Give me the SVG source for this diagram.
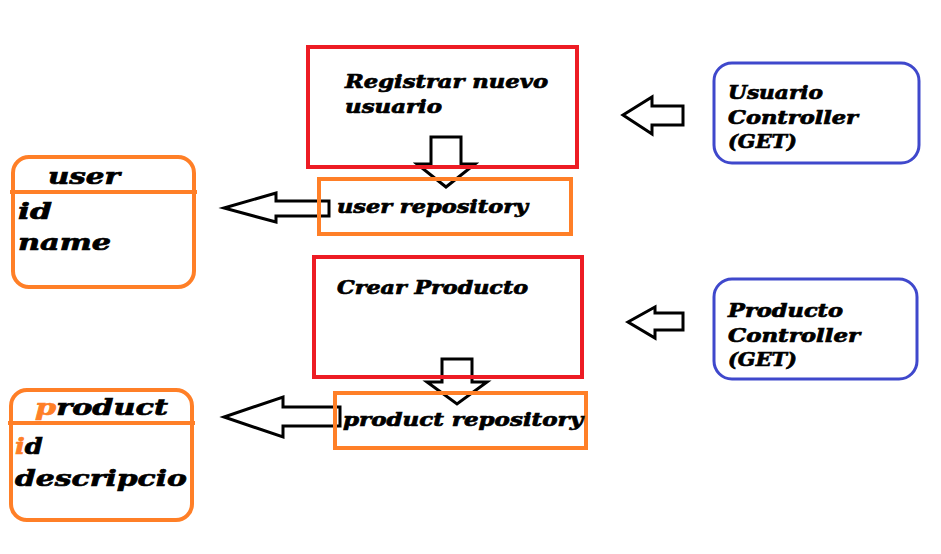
<svg xmlns="http://www.w3.org/2000/svg" width="941" height="554" viewBox="0 0 941 554">
<style>
.t{font-family:"DejaVu Serif","Liberation Serif",serif;font-weight:bold;font-style:italic;fill:#000;stroke:#000;stroke-width:0.7}
.s{font-size:18px}
.e{font-size:23px}
.red{fill:none;stroke:#ed1c24;stroke-width:4}
.org{fill:none;stroke:#ff7f27;stroke-width:4}
.blu{fill:none;stroke:#3f48cc;stroke-width:3}
.arr{fill:none;stroke:#000;stroke-width:3;stroke-linejoin:miter}
.op{fill:#ff7f27;stroke:#ff7f27}
</style>
<rect width="941" height="554" fill="#fff"/>
<g id="connectors">
<polygon class="arr" points="431,137 461,137 461,164 475,164 446,187 417,164 431,164"/>
<polygon class="arr" points="442,359 472,359 472,382 487,382 457,404 427,382 442,382"/>
<polygon class="arr" points="329,201 276,201 276,193 224,208 276,222 276,216 329,216"/>
<polygon class="arr" points="340,407 283,407 283,397 224,417 283,437 283,426 340,426"/>
<polygon class="arr" points="683,106 652,106 652,97 623,115 652,134 652,125 683,125"/>
<polygon class="arr" points="683,313 655,313 655,307 628,322 655,338 655,330 683,330"/>
</g>
<g id="registrar">
<rect class="red" x="308" y="47" width="269" height="120"/>
<text class="t s" x="345" y="88" textLength="203" lengthAdjust="spacingAndGlyphs">Registrar nuevo</text>
<text class="t s" x="345" y="113" textLength="97" lengthAdjust="spacingAndGlyphs">usuario</text>
</g>
<g id="user-repository">
<rect class="org" x="319" y="179" width="252" height="55"/>
<text class="t s" x="337" y="213" textLength="191" lengthAdjust="spacingAndGlyphs">user repository</text>
</g>
<g id="crear-producto">
<rect class="red" x="314" y="257" width="268" height="120"/>
<text class="t s" x="337" y="294" textLength="191" lengthAdjust="spacingAndGlyphs">Crear Producto</text>
</g>
<g id="product-repository">
<rect class="org" x="335" y="393" width="251" height="55"/>
<text class="t s" x="343" y="426" textLength="240" lengthAdjust="spacingAndGlyphs">product repository</text>
</g>
<g id="user">
<rect class="org" x="13" y="157" width="181" height="130" rx="16"/>
<line class="org" x1="10" y1="192" x2="197" y2="192"/>
<text class="t e" x="48" y="184" textLength="72" lengthAdjust="spacingAndGlyphs">user</text>
<text class="t e" x="18" y="219" textLength="34" lengthAdjust="spacingAndGlyphs">id</text>
<text class="t e" x="18" y="250" textLength="93" lengthAdjust="spacingAndGlyphs">name</text>
</g>
<g id="product">
<rect class="org" x="11" y="390" width="181" height="130" rx="16"/>
<line class="org" x1="8" y1="423" x2="195" y2="423"/>
<text class="t e" x="35" y="415" textLength="133" lengthAdjust="spacingAndGlyphs"><tspan class="op">p</tspan>roduct</text>
<text class="t e" x="15" y="454" textLength="28" lengthAdjust="spacingAndGlyphs"><tspan class="op">i</tspan>d</text>
<text class="t e" x="15" y="486" textLength="172" lengthAdjust="spacingAndGlyphs">descripcio</text>
</g>
<g id="usuario-controller">
<rect class="blu" x="714" y="63" width="205" height="100" rx="18"/>
<text class="t s" x="728" y="99" textLength="95" lengthAdjust="spacingAndGlyphs">Usuario</text>
<text class="t s" x="728" y="124" textLength="130" lengthAdjust="spacingAndGlyphs">Controller</text>
<text class="t s" x="728" y="148" textLength="69" lengthAdjust="spacingAndGlyphs">(GET)</text>
</g>
<g id="producto-controller">
<rect class="blu" x="714" y="279" width="203" height="100" rx="18"/>
<text class="t s" x="728" y="317" textLength="115" lengthAdjust="spacingAndGlyphs">Producto</text>
<text class="t s" x="728" y="342" textLength="132" lengthAdjust="spacingAndGlyphs">Controller</text>
<text class="t s" x="728" y="366" textLength="69" lengthAdjust="spacingAndGlyphs">(GET)</text>
</g>
</svg>
